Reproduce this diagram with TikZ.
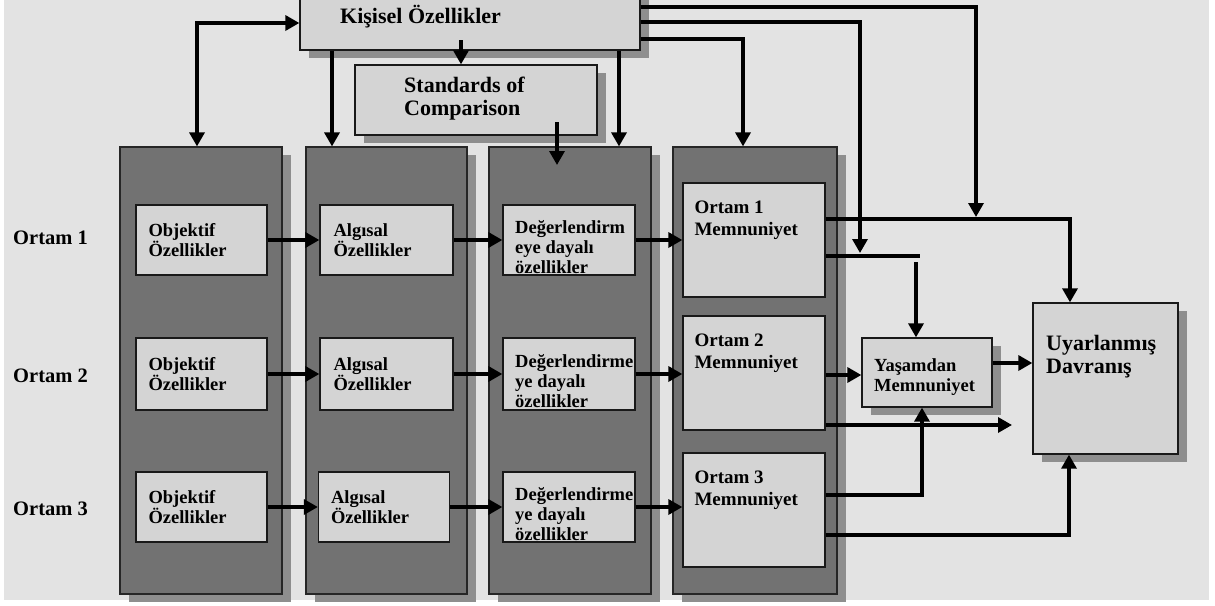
\documentclass[tikz,border=0pt]{standalone}
\usepackage{fontspec}
\setmainfont{Liberation Serif}
\usetikzlibrary{arrows.meta,shadows,calc}
\definecolor{bgc}{HTML}{E3E3E3}
\definecolor{colc}{HTML}{727272}
\definecolor{shc}{HTML}{8E8E8E}
\definecolor{boxc}{HTML}{D4D4D4}
\begin{document}
\begin{tikzpicture}[x=1pt,y=-1pt,
  shd/.style={drop shadow={shadow xshift=9pt,shadow yshift=-8pt,fill=shc,opacity=1}},
  col/.style={draw=black!85,line width=1.2pt,fill=colc,minimum height=447pt,inner sep=0pt,shd},
  lbox/.style={draw=black!90,line width=1.3pt,fill=boxc,inner sep=0pt},
  inbox/.style={lbox,inner xsep=12pt,inner ysep=0pt,text width=106pt,align=left,
     font=\fontsize{18.5}{20}\selectfont\bfseries},
  txt/.style={inner sep=0pt,align=left,font=\fontsize{18.5}{20}\selectfont\bfseries},
  mtxt/.style={inner sep=0pt,align=left,font=\fontsize{19}{22}\selectfont\bfseries},
  bigtxt/.style={inner sep=0pt,align=left,font=\fontsize{22}{23}\selectfont\bfseries},
  lab/.style={inner sep=0pt,anchor=west,font=\fontsize{20.5}{22}\selectfont\bfseries},
  ln/.style={line width=3.3pt,draw=black},
  arr/.style={ln,-{Triangle[length=14pt,width=15pt]}},
  arrb/.style={ln,{Triangle[length=14pt,width=15pt]}-{Triangle[length=14pt,width=15pt]}}
]
\useasboundingbox (0,0) rectangle (1215,605);
\fill[white] (0,0) rectangle (1215,605);
\fill[bgc] (4,0) rectangle (1209,600);

% columns
\node[col,minimum width=162pt] (c1) at (201,370.5) {};
\node[col,minimum width=161pt] (c2) at (386.5,370.5) {};
\node[col,minimum width=162pt] (c3) at (570,370.5) {};
\node[col,minimum width=164pt] (c4) at (755,370.5) {};

% top boxes
\node[lbox,shd,minimum width=340pt,minimum height=58pt] (ks) at (470,21) {};
\node[bigtxt,anchor=west] (kst) at (340,17) {Kişisel Özellikler};
\node[lbox,shd,minimum width=242pt,minimum height=70pt] (std) at (476,100) {};
\node[bigtxt,anchor=west] (stdt) at (404,99) {Standards of\\Comparison};

% row labels
\node[lab] (L1) at (13,238) {Ortam 1};
\node[lab] (L2) at (13,376) {Ortam 2};
\node[lab] (L3) at (13,509) {Ortam 3};

% row boxes
\node[inbox,minimum width=131pt,minimum height=70pt] (o1) at (201.5,240) {Objektif\\Özellikler};
\node[inbox,minimum width=131pt,minimum height=72pt] (o2) at (201.5,374) {Objektif\\Özellikler};
\node[inbox,minimum width=131pt,minimum height=70pt] (o3) at (201.5,507) {Objektif\\Özellikler};
\node[inbox,minimum width=133pt,minimum height=70pt] (a1) at (386.5,240) {Algısal\\Özellikler};
\node[inbox,minimum width=133pt,minimum height=72pt] (a2) at (386.5,374) {Algısal\\Özellikler};
\node[inbox,minimum width=131pt,minimum height=70pt] (a3) at (384,507) {Algısal\\Özellikler};
\node[lbox,minimum width=132pt,minimum height=70pt] (d1) at (569,240) {};
\node[lbox,minimum width=132pt,minimum height=72pt] (d2) at (569,374) {};
\node[lbox,minimum width=132pt,minimum height=70pt] (d3) at (569,507) {};
\node[txt,anchor=west] (d1t) at (515,247) {Değerlendirm\\eye dayalı\\özellikler};
\node[txt,anchor=west] (d2t) at (515,381) {Değerlendirme\\ye dayalı\\özellikler};
\node[txt,anchor=west] (d3t) at (515,514) {Değerlendirme\\ye dayalı\\özellikler};

% satisfaction boxes
\node[lbox,minimum width=142pt,minimum height=114pt] (m1) at (754,240) {};
\node[lbox,minimum width=142pt,minimum height=114pt] (m2) at (754,373) {};
\node[lbox,minimum width=142pt,minimum height=114pt] (m3) at (754,510) {};
\node[mtxt,anchor=north west] (m1t) at ($(m1.north west)+(12,18)$) {Ortam 1\\Memnuniyet};
\node[mtxt,anchor=north west] (m2t) at ($(m2.north west)+(12,18)$) {Ortam 2\\Memnuniyet};
\node[mtxt,anchor=north west] (m3t) at ($(m3.north west)+(12,18)$) {Ortam 3\\Memnuniyet};

\node[lbox,shd,minimum width=130pt,minimum height=69pt] (yas) at (927,372.5) {};
\node[txt,anchor=west] (yast) at (874,377) {Yaşamdan\\Memnuniyet};
\node[lbox,shd,minimum width=145pt,minimum height=151pt] (uyar) at (1105.5,378.5) {};
\node[bigtxt,anchor=north west] (uyart) at (1046,335) {Uyarlanmış\\Davranış};

% helper coordinates
\coordinate (yk1) at (0,23);
\coordinate (xA) at (332,0);
\coordinate (s0) at (461,40);
\coordinate (xC) at (619,0);
\coordinate (s1) at (557,122);
\coordinate (s2) at (557,165);
\coordinate (ye1) at (0,39);
\coordinate (ye2) at (0,22);
\coordinate (ye3) at (0,7);
\coordinate (xD) at (743,0);
\coordinate (j2) at (860,253);
\coordinate (j3) at (976,217);
\coordinate (ym1) at (0,219);
\coordinate (xE) at (1070,0);
\coordinate (ym2) at (0,256);
\coordinate (e2) at (920,256);
\coordinate (j4) at (916,262);
\coordinate (ym3) at (0,375);
\coordinate (ym4) at (0,363);
\coordinate (ym5) at (0,425);
\coordinate (j5) at (1012,425);
\coordinate (ym6) at (0,495);
\coordinate (xF) at (922,0);
\coordinate (ym7) at (0,535);
\coordinate (xG) at (1069,0);

% connectors from top
\draw[arrb] ($(c1.north)+(-4,0)$) |- (ks.west |- yk1);
\draw[arr] (ks.south -| xA) -- (c2.north -| xA);
\draw[arr] (s0) -- (std.north -| s0);
\draw[arr] (ks.south -| xC) -- (c3.north -| xC);
\draw[arr] (s1) -- (s2);
\draw[arr] (ks.east |- ye1) -| (c4.north -| xD);
\draw[arr] (ks.east |- ye2) -| (j2);
\draw[arr] (ks.east |- ye3) -| (j3);

% row arrows
\foreach \r in {1,2,3}{
  \draw[arr] (o\r.east) -- (o\r.east -| a\r.west);
  \draw[arr] (a\r.east) -- (a\r.east -| d\r.west);
  \draw[arr] (d\r.east) -- (d\r.east -| m\r.west);
}

% right side
\draw[arr] (m1.east |- ym1) -| (uyar.north -| xE);
\draw[ln] (m1.east |- ym2) -- (e2);
\draw[arr] (j4) -- (yas.north -| j4);
\draw[arr] (m2.east |- ym3) -- (yas.west |- ym3);
\draw[arr] (yas.east |- ym4) -- (uyar.west |- ym4);
\draw[arr] (m2.east |- ym5) -- (j5);
\draw[arr] (m3.east |- ym6) -| (yas.south -| xF);
\draw[arr] (m3.east |- ym7) -| (uyar.south -| xG);
\end{tikzpicture}
\end{document}
